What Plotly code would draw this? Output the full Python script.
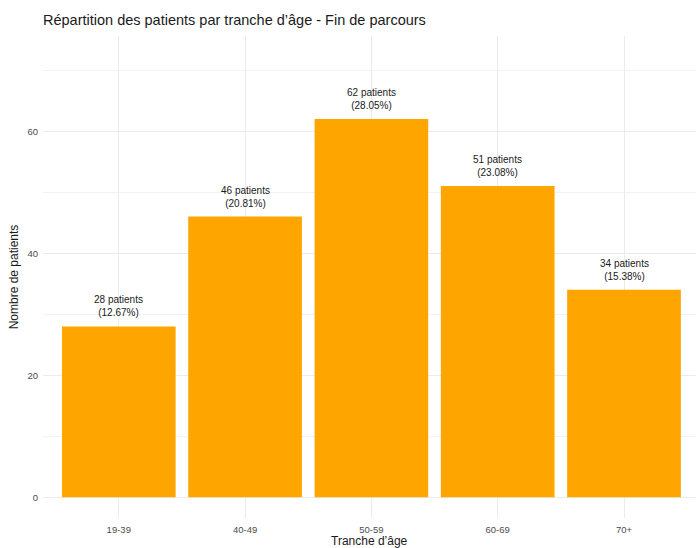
import plotly.graph_objects as go

# Patients per age band at end of care pathway
tranches = ["19-39", "40-49", "50-59", "60-69", "70+"]
effectifs = [28, 46, 62, 51, 34]
pourcentages = [12.67, 20.81, 28.05, 23.08, 15.38]

etiquettes = [f"{n} patients<br>({p:.2f}%)" for n, p in zip(effectifs, pourcentages)]

W, H = 696, 548

fig = go.Figure()
fig.add_trace(go.Bar(
    x=tranches,
    y=effectifs,
    marker=dict(color="#FFA500", line=dict(width=0)),
    width=0.9,
    hoverinfo="skip",
))

for t, n, lab in zip(tranches, effectifs, etiquettes):
    fig.add_annotation(
        x=t, y=n, text=lab, showarrow=False,
        yanchor="bottom", yshift=6,
        font=dict(family="Liberation Sans, Arial, sans-serif", size=10, color="#1a1a1a"),
        align="center",
    )

# x-axis title placed below the tick labels
fig.add_annotation(
    text="Tranche d’âge", xref="paper", yref="paper",
    x=0.5, y=-23 / (H - 36 - 30) * 1.0, xanchor="center", yanchor="middle",
    showarrow=False, font=dict(size=12, color="#1a1a1a"),
)

fig.update_layout(
    width=W, height=H,
    margin=dict(l=43, r=0, t=36, b=30),
    paper_bgcolor="white", plot_bgcolor="white",
    showlegend=False,
    font=dict(family="Liberation Sans, Arial, sans-serif"),
    title=dict(
        text="Répartition des patients par tranche d’âge - Fin de parcours",
        x=43 / W, xanchor="left", y=1 - 20 / H, yanchor="middle",
        font=dict(size=14.5, color="#1a1a1a"),
    ),
    xaxis=dict(
        type="category",
        range=[-0.6, 4.57],
        automargin=False,
        showgrid=True, gridcolor="#ebebeb", gridwidth=1,
        zeroline=False, showline=False, ticks="",
        ticklabelstandoff=4,
        tickfont=dict(size=9.5, color="#4d4d4d"),
    ),
    yaxis=dict(
        range=[-3.4, 75.6],
        automargin=False,
        tickvals=[0, 20, 40, 60],
        showgrid=True, gridcolor="#ebebeb", gridwidth=1,
        minor=dict(tickvals=[10, 30, 50, 70], showgrid=True, gridcolor="#f2f2f2", gridwidth=0.6),
        zeroline=False, showline=False, ticks="",
        ticklabelstandoff=4,
        tickfont=dict(size=9.5, color="#4d4d4d"),
        title=dict(text="Nombre de patients", font=dict(size=12, color="#1a1a1a"), standoff=6),
    ),
)

fig.write_html("out.html")
